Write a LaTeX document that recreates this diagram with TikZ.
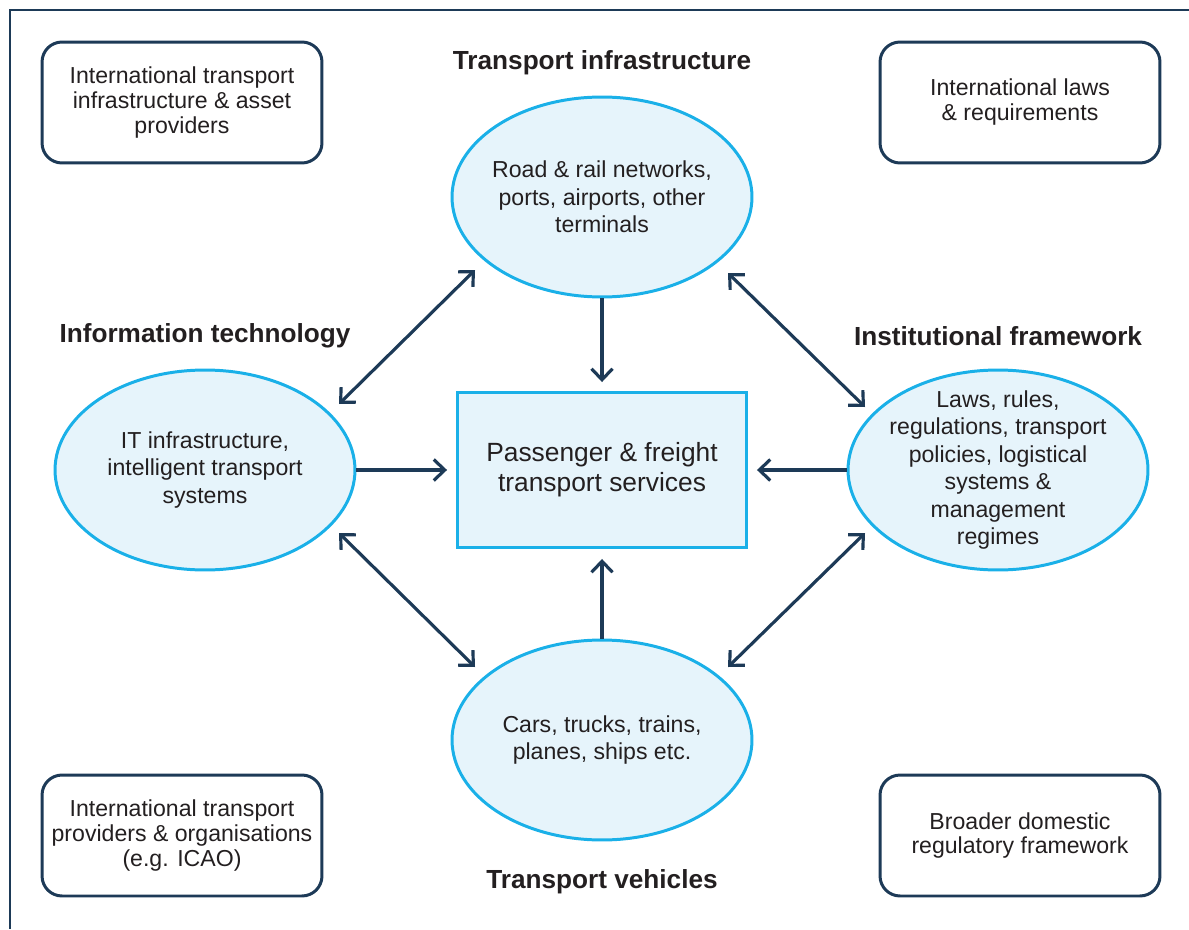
\documentclass[tikz,border=0pt]{standalone}
\usepackage{fontspec}
\setmainfont{Liberation Sans}
\usetikzlibrary{shapes.geometric,arrows.meta}
\definecolor{navy}{RGB}{29,58,87}
\definecolor{sky}{RGB}{26,176,232}
\definecolor{pale}{RGB}{230,244,251}
\definecolor{ink}{RGB}{35,31,32}
\begin{document}
\begin{tikzpicture}[x=0.02cm, y=-0.02cm,
>={Straight Barb[length=0.22cm,width=0.42cm]},
every edge/.style = {draw=navy, line width=1.8pt},
 lbl/.style = {align=center, text=ink,
      font=\fontsize{13.15}{15.6}\selectfont},
 blob/.style = {%
      ellipse, draw=sky, line width=1.7pt, fill=pale, inner sep=0pt,
      minimum width=6cm, minimum height=4cm, label={[lbl]center:#1}},
 hub/.style = {%
      rectangle, draw=sky, line width=1.7pt, fill=pale,
      minimum width=5.78cm, minimum height=3.1cm,
      align=center, text=ink, font=\fontsize{15}{17}\selectfont},
 card/.style = {%
      rectangle, rounded corners=0.4cm, draw=navy, line width=1.7pt,
      fill=white, minimum width=5.6cm, minimum height=2.42cm,
      align=center, text=ink, font=\fontsize{13.15}{14.2}\selectfont},
 ttl/.style = {text=ink, font=\fontsize{14.9}{17}\selectfont\bfseries}
                    ]
\useasboundingbox (0,0) rectangle (1189,929);
\draw[navy, line width=1.7pt] (1189,10) -- (10,10) -- (10,929);
%
\node(intlA) [card] at (182,102.5) {International transport\\infrastructure \& asset\\providers};
\node(intlL) [card] at (1020,102.5) {International laws\\\& requirements};
\node(intlP) [card] at (182,835.5) {International transport\\providers \& organisations\\(e.g. ICAO)};
\node(dom) [card] at (1020,835.5) {Broader domestic\\regulatory framework};
%
\node(tRoad) [ttl] at (602,63) {Transport infrastructure};
\node(tIT) [ttl] at (205,336) {Information technology};
\node(tInst) [ttl] at (998,336) {Institutional framework};
\node(tVeh) [ttl] at (602,882) {Transport vehicles};
%
\node(road) [blob={Road \& rail networks,\\ports, airports, other\\terminals}] at (602,197) {};
\node(it) [blob={IT infrastructure,\\intelligent transport\\systems}] at (205,470) {};
\node(inst) [blob={Laws, rules,\\regulations, transport\\policies, logistical\\systems \&\\management\\regimes}] at (998,470) {};
\node(veh) [blob={Cars, trucks, trains,\\planes, ships etc.}] at (602,740) {};
\node(svc) [hub] at (602,470) {Passenger \& freight\\transport services};
%
\path   (road) edge[->, shorten >=0.18cm] (svc);
\path   (it)   edge[->, shorten >=0.18cm] (svc);
\path   (inst) edge[->, shorten >=0.18cm] (svc);
\path   (veh)  edge[->, shorten >=0.2cm] (svc);
\path   ([shift={(134,-66)}]it.center)   edge[<->] ([shift={(-127,73)}]road.center);
\path   ([shift={(126,76)}]road.center)  edge[<->] ([shift={(-133,-63)}]inst.center);
\path   ([shift={(134,63)}]it.center)    edge[<->] ([shift={(-127,-73)}]veh.center);
\path   ([shift={(126,-73)}]veh.center)  edge[<->] ([shift={(-133,63)}]inst.center);
\end{tikzpicture}
\end{document}
